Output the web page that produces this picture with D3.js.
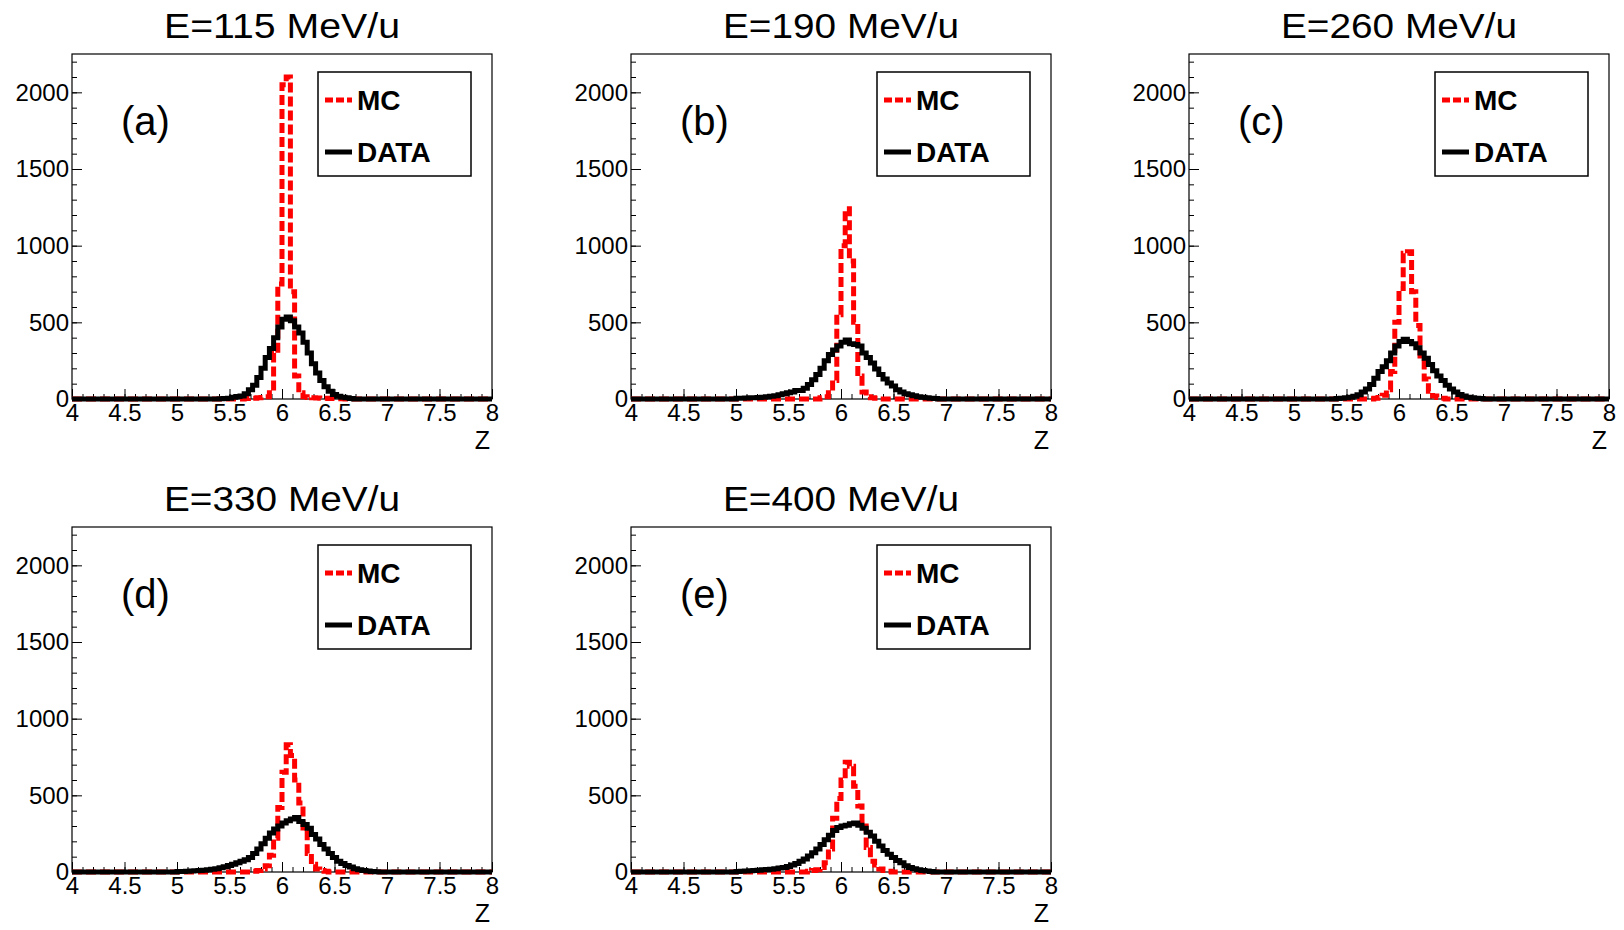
<!DOCTYPE html>
<html>
<head>
<meta charset="utf-8">
<script src="https://cdn.jsdelivr.net/npm/d3@7"></script>
<style>
  body { margin: 0; background: #fff; }
  text { font-family: "Liberation Sans", Arial, sans-serif; }
</style>
</head>
<body>
<div id="body"></div>
<script>
// histogram bins are 0.04 wide, values start at the given Z
var binWidth = 0.04;

var titles = ["E=115 MeV/u", "E=190 MeV/u", "E=260 MeV/u", "E=330 MeV/u", "E=400 MeV/u"];
var tags = ["(a)", "(b)", "(c)", "(d)", "(e)"];

var mcStart = [5.64, 5.80, 5.76, 5.72, 5.68];
var mcA = [3, 5, 5, 8, 10, 15, 40, 300, 750, 2050, 2100, 700, 150, 40, 15, 10, 8, 6, 5, 5, 4, 3, 3, 2];
var mcB = [8, 15, 40, 120, 550, 1000, 1240, 900, 500, 150, 45, 15, 8, 5];
var mcC = [5, 10, 25, 60, 180, 500, 720, 950, 960, 700, 480, 280, 130, 50, 20, 10, 5];
var mcD = [5, 10, 20, 40, 110, 220, 420, 650, 830, 760, 600, 450, 270, 120, 50, 20, 10, 5];
var mcE = [5, 10, 15, 30, 60, 150, 350, 480, 600, 715, 690, 560, 430, 320, 160, 70, 45, 20, 10, 5];

var dataStart = [5.40, 5.00, 5.40, 5.00, 5.00];
var dataA = [2, 3, 5, 12, 16, 20, 35, 60, 90, 140, 200, 270, 330, 400, 470, 520, 535, 510, 470, 430,
             370, 300, 230, 170, 120, 80, 50, 30, 18, 12, 8, 3];
var dataB = [5, 5, 6, 8, 8, 10, 12, 15, 18, 22, 28, 35, 40, 45, 55, 55, 70, 95, 125, 160,
             200, 250, 290, 320, 345, 370, 385, 360, 355, 345, 300, 270, 235, 195, 160, 130, 105, 85, 60, 45,
             35, 28, 22, 15, 12, 8, 5, 3];
var dataC = [3, 5, 8, 12, 18, 28, 45, 65, 95, 135, 180, 210, 250, 300, 345, 375, 390, 375, 360, 335,
             300, 265, 225, 185, 150, 120, 90, 65, 45, 30, 20, 12, 8, 5, 3];
var dataD = [3, 4, 5, 6, 8, 10, 12, 15, 18, 22, 28, 35, 42, 50, 60, 70, 80, 95, 120, 150,
             185, 220, 255, 280, 300, 320, 335, 345, 355, 330, 310, 285, 245, 215, 180, 150, 120, 95, 70, 55,
             42, 32, 22, 15, 10, 6, 4, 2];
var dataE = [4, 5, 6, 8, 10, 12, 14, 16, 18, 22, 26, 30, 36, 45, 55, 70, 85, 105, 125, 150,
             180, 210, 240, 270, 290, 300, 305, 315, 320, 305, 285, 260, 235, 200, 170, 140, 115, 95, 75, 60,
             40, 30, 22, 15, 10, 6, 3];

var mcSeries = [mcA, mcB, mcC, mcD, mcE];
var dataSeries = [dataA, dataB, dataC, dataD, dataE];

var yTicks = [0, 500, 1000, 1500, 2000];
var xTicks = [4, 4.5, 5, 5.5, 6, 6.5, 7, 7.5, 8];
var xTickLabels = ["4", "4.5", "5", "5.5", "6", "6.5", "7", "7.5", "8"];

var svgWidth = 1624, svgHeight = 930;
var panelW = 420, panelH = 345;
var panelLeft = [72, 631, 1189, 72, 631];
var panelTop = [54, 54, 54, 527, 527];

var svg = d3.select("#body").append("svg")
    .attr("width", svgWidth)
    .attr("height", svgHeight);

var x = d3.scaleLinear().domain([4, 8]).range([0, panelW]);
var y = d3.scaleLinear().domain([0, 2250]).range([panelH, 0]);

var line = d3.line()
    .x(function(d) { return x(d[0]); })
    .y(function(d) { return y(d[1]); })
    .curve(d3.curveStepAfter);

function histPoints(start, vals) {
    var pts = [[4, 0]];
    vals.forEach(function(v, i) { pts.push([start + i * binWidth, v]); });
    pts.push([start + vals.length * binWidth, 0]);
    pts.push([8, 0]);
    return pts;
}

function styleAxis(g, size) {
    g.select(".domain").remove();
    g.selectAll("line").attr("stroke", "#000").attr("stroke-width", 1);
    g.selectAll("text").attr("font-size", size)
        .attr("font-family", "'Liberation Sans', Arial, sans-serif")
        .attr("fill", "#000");
}

titles.forEach(function(title, p) {
    var chart = svg.append("g")
        .attr("transform", "translate(" + panelLeft[p] + "," + panelTop[p] + ")");

    // title
    chart.append("text")
        .attr("x", panelW / 2)
        .attr("y", -16)
        .attr("text-anchor", "middle")
        .attr("font-size", 35)
        .attr("textLength", 236)
        .attr("lengthAdjust", "spacingAndGlyphs")
        .text(title);

    // minor ticks
    chart.append("g")
        .call(d3.axisLeft(y).tickValues(d3.range(0, 2201, 100)).tickSize(-5).tickFormat(""))
        .call(styleAxis, 24);
    chart.append("g")
        .attr("transform", "translate(0," + panelH + ")")
        .call(d3.axisBottom(x).tickValues(d3.range(40, 81, 1).map(function(d) { return d / 10; })).tickSize(-5).tickFormat(""))
        .call(styleAxis, 24);

    // major ticks and labels
    chart.append("g")
        .call(d3.axisLeft(y).tickValues(yTicks).tickSize(-10).tickPadding(3).tickFormat(d3.format("d")))
        .call(styleAxis, 24);
    chart.append("g")
        .attr("transform", "translate(0," + panelH + ")")
        .call(d3.axisBottom(x).tickValues(xTicks).tickSize(-10).tickPadding(5)
              .tickFormat(function(d, i) { return xTickLabels[i]; }))
        .call(styleAxis, 24);

    // frame
    chart.append("rect")
        .attr("width", panelW).attr("height", panelH)
        .attr("fill", "none").attr("stroke", "#000").attr("stroke-width", 1.2);

    // histograms
    chart.append("path")
        .attr("d", line(histPoints(mcStart[p], mcSeries[p])))
        .attr("fill", "none").attr("stroke", "#ff0000")
        .attr("stroke-width", 5).attr("stroke-dasharray", "10,4");
    chart.append("path")
        .attr("d", line(histPoints(dataStart[p], dataSeries[p])))
        .attr("fill", "none").attr("stroke", "#000")
        .attr("stroke-width", 5);

    // Z label
    chart.append("text")
        .attr("x", panelW - 2).attr("y", panelH + 50)
        .attr("text-anchor", "end").attr("font-size", 25)
        .text("Z");

    // panel tag
    chart.append("text")
        .attr("x", 49).attr("y", 81)
        .attr("font-size", 40)
        .text(tags[p]);

    // legend
    var leg = chart.append("g").attr("transform", "translate(246,18)");
    leg.append("rect")
        .attr("width", 153).attr("height", 104)
        .attr("fill", "#fff").attr("stroke", "#000").attr("stroke-width", 1.5);
    leg.append("line")
        .attr("x1", 7).attr("x2", 34).attr("y1", 28).attr("y2", 28)
        .attr("stroke", "#ff0000").attr("stroke-width", 5).attr("stroke-dasharray", "8,3");
    leg.append("line")
        .attr("x1", 7).attr("x2", 34).attr("y1", 80).attr("y2", 80)
        .attr("stroke", "#000").attr("stroke-width", 5);
    leg.append("text")
        .attr("x", 39).attr("y", 38)
        .attr("font-size", 28).attr("font-weight", "bold")
        .text("MC");
    leg.append("text")
        .attr("x", 39).attr("y", 90)
        .attr("font-size", 28).attr("font-weight", "bold")
        .text("DATA");
});
</script>
</body>
</html>
